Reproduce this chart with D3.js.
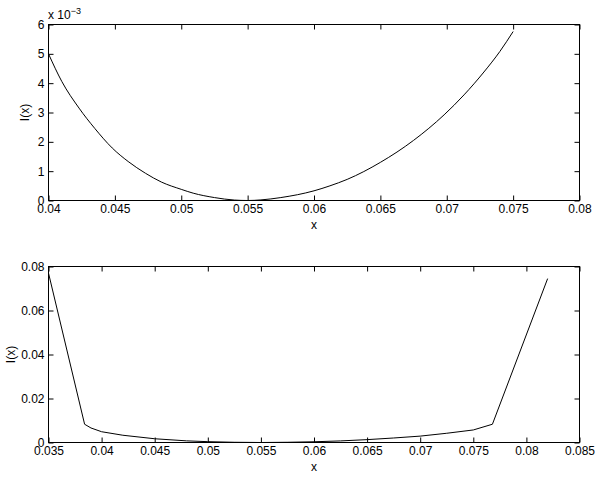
<!DOCTYPE html>
<html>
<head>
<meta charset="utf-8">
<script src="https://cdn.jsdelivr.net/npm/d3@7"></script>
<style>
  body { margin: 0; background: #fff; }
  svg { display: block; }
  text { font-family: "Liberation Sans", Arial, Helvetica, sans-serif; fill: #000; }
</style>
</head>
<body>
<div id="chart"></div>
<script>
// top panel: I(x) near the minimum (values in units, shown as x 10^-3)
var topX = [0.040, 0.041, 0.0423, 0.0435, 0.0448, 0.046, 0.0473, 0.0485, 0.050, 0.0509,
            0.0525, 0.054, 0.055, 0.056, 0.0575, 0.060, 0.0612, 0.0625, 0.065, 0.0675,
            0.0698, 0.0713, 0.0728, 0.074, 0.075];
var topI = [5.0e-3, 4.06e-3, 3.15e-3, 2.45e-3, 1.79e-3, 1.33e-3, 0.93e-3, 0.63e-3, 0.38e-3, 0.25e-3,
            0.10e-3, 0.015e-3, 0, 0.02e-3, 0.10e-3, 0.33e-3, 0.50e-3, 0.72e-3, 1.30e-3, 2.05e-3,
            2.92e-3, 3.60e-3, 4.38e-3, 5.08e-3, 5.76e-3];

// bottom panel: wider range, linear beyond the kinks
var botX = [0.035, 0.0384, 0.039, 0.040, 0.042, 0.045, 0.048, 0.050, 0.0525, 0.055,
            0.0575, 0.060, 0.0625, 0.065, 0.0675, 0.070, 0.0725, 0.075, 0.0768, 0.082];
var botI = [0.0770, 0.0083, 0.0066, 0.0049, 0.0033, 0.0017, 0.00075, 0.00038, 0.0001, 0,
            0.0001, 0.00033, 0.00072, 0.0013, 0.00205, 0.0029, 0.0042, 0.0057, 0.0083, 0.0745];

var topXTicks = [0.04, 0.045, 0.05, 0.055, 0.06, 0.065, 0.07, 0.075, 0.08];
var topYTicks = [0, 0.001, 0.002, 0.003, 0.004, 0.005, 0.006];
var botXTicks = [0.035, 0.04, 0.045, 0.05, 0.055, 0.06, 0.065, 0.07, 0.075, 0.08, 0.085];
var botYTicks = [0, 0.02, 0.04, 0.06, 0.08];

var W = 599, H = 477;
var svg = d3.select("#chart").append("svg")
    .attr("width", W)
    .attr("height", H);

var fmt = function(d) { return String(+d.toFixed(4)); };

function panel(box, xs, ys, xDom, yDom, xTicks, yTicks, yFmt, curve, ylabX) {
    var x = d3.scaleLinear().domain(xDom).range([box.left, box.right]);
    var y = d3.scaleLinear().domain(yDom).range([box.bottom, box.top]);

    var g = svg.append("g");

    g.append("g").attr("transform", "translate(0," + box.bottom + ")")
        .call(d3.axisBottom(x).tickValues(xTicks).tickSizeInner(-5).tickSizeOuter(0).tickPadding(4).tickFormat(fmt));
    g.append("g").attr("transform", "translate(0," + box.top + ")")
        .call(d3.axisTop(x).tickValues(xTicks).tickSizeInner(-5).tickSizeOuter(0).tickFormat(""));
    g.append("g").attr("transform", "translate(" + box.left + ",0)")
        .call(d3.axisLeft(y).tickValues(yTicks).tickSizeInner(-5).tickSizeOuter(0).tickPadding(4).tickFormat(yFmt));
    g.append("g").attr("transform", "translate(" + box.right + ",0)")
        .call(d3.axisRight(y).tickValues(yTicks).tickSizeInner(-5).tickSizeOuter(0).tickFormat(""));

    g.selectAll(".domain").remove();
    g.selectAll(".tick line").attr("stroke", "#000");
    g.selectAll("g").attr("font-size", 12).attr("font-family", null);
    g.selectAll(".tick text").attr("fill", "#000");

    g.append("rect")
        .attr("x", box.left).attr("y", box.top)
        .attr("width", box.right - box.left).attr("height", box.bottom - box.top)
        .attr("fill", "none").attr("stroke", "#000");

    var pts = xs.map(function(d, i) { return [d, ys[i]]; });
    g.append("path")
        .datum(pts)
        .attr("fill", "none")
        .attr("stroke", "#000")
        .attr("stroke-width", 1)
        .attr("d", d3.line().curve(curve)
            .x(function(d) { return x(d[0]); })
            .y(function(d) { return y(d[1]); }));

    g.append("text")
        .attr("font-size", 12)
        .attr("text-anchor", "middle")
        .attr("x", (box.left + box.right) / 2)
        .attr("y", box.bottom + 28.5)
        .text("x");

    g.append("text")
        .attr("font-size", 12)
        .attr("text-anchor", "middle")
        .attr("transform", "translate(" + ylabX + "," + ((box.top + box.bottom) / 2) + ") rotate(-90)")
        .text("I(x)");
}

panel({left: 48.5, right: 579.5, top: 24.5, bottom: 200.5}, topX, topI,
    [0.04, 0.08], [0, 0.006], topXTicks, topYTicks,
    function(d) { return String(Math.round(d * 1000)); }, d3.curveMonotoneX, 29);

panel({left: 48.5, right: 579.5, top: 266.5, bottom: 442.5}, botX, botI,
    [0.035, 0.085], [0, 0.08], botXTicks, botYTicks,
    fmt, d3.curveLinear, 15);

// exponent note above the top panel
var ex = svg.append("text").attr("x", 48).attr("y", 19).attr("font-size", 12);
ex.append("tspan").text("x 10");
ex.append("tspan").attr("dy", -5).attr("font-size", 9).text("\u22123");
</script>
</body>
</html>
